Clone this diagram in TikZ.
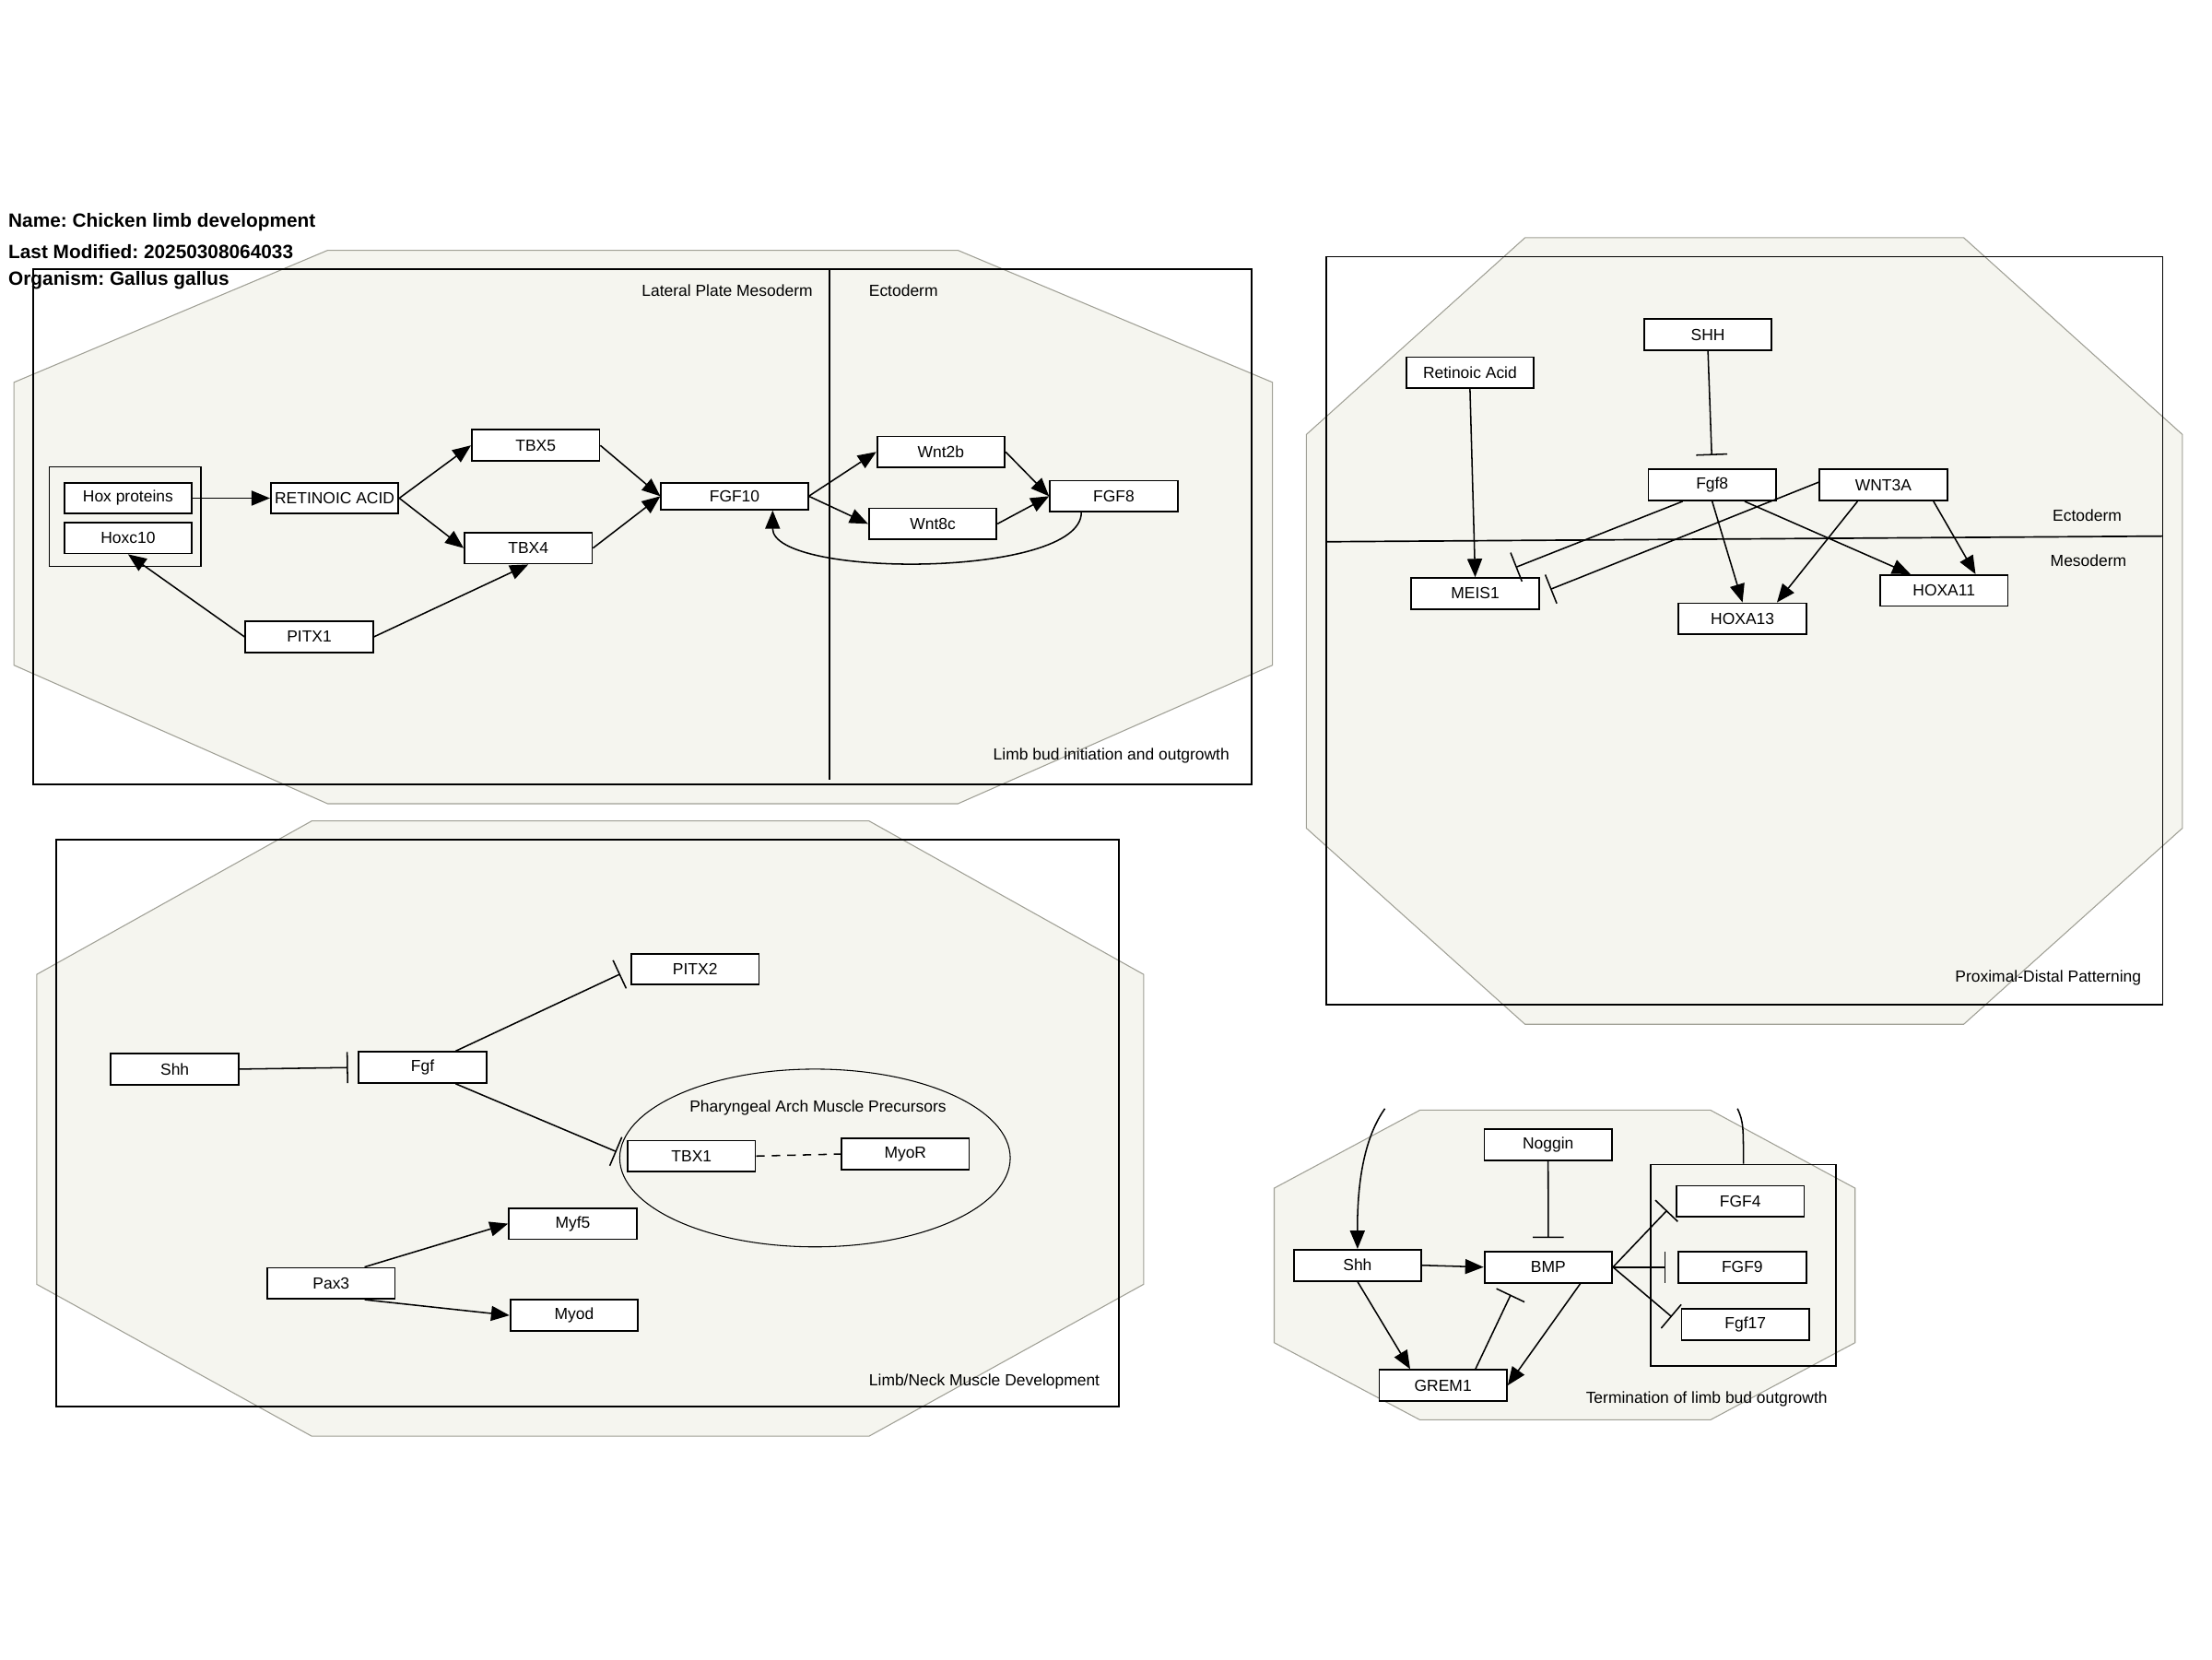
\documentclass[tikz,border=0pt]{standalone}
\usepackage{fontspec}
\setmainfont{Liberation Sans}
\usetikzlibrary{arrows.meta,shapes.geometric}
\definecolor{octfill}{RGB}{245,245,239}
\definecolor{octline}{RGB}{160,160,150}
\newcommand{\nodefont}{\fontsize{11.4pt}{13pt}\selectfont}
\newcommand{\titlefont}{\fontsize{13.6pt}{16pt}\selectfont\bfseries}
\frenchspacing
\tikzset{
  gene/.style={draw=black, fill=white, line width=1.2pt, minimum width=90.5pt, minimum height=22pt, inner sep=0pt, font=\nodefont},
  oct/.style={fill=octfill, draw=octline, line width=0.7pt},
  frame/.style={draw=black, line width=1.2pt},
  act/.style={line width=1.0pt, -{Triangle[length=13pt,width=10.5pt]}},
  inh/.style={line width=1.0pt, -{Bar[width=22pt]}},
  lbl/.style={font=\nodefont, inner sep=0pt},
}
\begin{document}
\begin{tikzpicture}[x=1pt,y=-1pt]
\useasboundingbox (0,0) rectangle (1568,1176);
\fill[white] (0,0) rectangle (1568,1176);

% ---------- background cells ----------
\draw[oct] (232.3,177.4) -- (679,177.4) -- (902,271) -- (902,471.5) -- (679,569.7) -- (232.3,569.7) -- (9.9,471.5) -- (9.9,271) -- cycle;
\draw[oct] (1081,168.5) -- (1392,168.5) -- (1547,308) -- (1547,587) -- (1392,726) -- (1081,726) -- (926,587) -- (926,308) -- cycle;
\draw[oct] (221,581.9) -- (616,581.9) -- (810.7,690.7) -- (810.7,910.3) -- (616,1018) -- (221,1018) -- (26,910.3) -- (26,690.7) -- cycle;
\draw[oct] (1006.5,786.9) -- (1212.5,786.9) -- (1315,842.2) -- (1315,951.7) -- (1212.5,1006.4) -- (1006.5,1006.4) -- (903.2,951.7) -- (903.2,842.2) -- cycle;

% ---------- frames ----------
\draw[frame] (23.4,191) rectangle (887.3,556);
\draw[line width=1.1pt] (587.9,191) -- (587.9,553);
\draw[frame] (940,182) rectangle (1533,712);
\draw[line width=1.1pt] (940,384) -- (1533,380);
\draw[frame] (40,595) rectangle (793,997);
\draw[line width=0.7pt] (577.7,820.8) ellipse [x radius=138.4, y radius=63];

% ---------- titles ----------
\node[anchor=west, font=\titlefont, inner sep=0pt] (tname) at (5.8,157.6) {Name: Chicken limb development};
\node[anchor=west, font=\titlefont, inner sep=0pt] (tmod) at (5.8,178.2) {Last Modified: 20250308064033};
\node[anchor=west, font=\titlefont, inner sep=0pt] (torg) at (5.8,198.7) {Organism: Gallus gallus};

% ---------- panel 1 ----------
\node[lbl] (lpm) at (515.5,205.8) {Lateral Plate Mesoderm};
\node[lbl] (ecto1) at (640.4,205.8) {Ectoderm};
\node[lbl, anchor=east] (p1title) at (871.6,535.6) {Limb bud initiation and outgrowth};

\node[draw=black, line width=0.9pt, minimum width=107.4pt, minimum height=70.6pt, inner sep=0pt] (hoxgrp) at (88.7,366.2) {};
\node[gene] (hox) at (90.75,353.1) {Hox proteins};
\node[gene] (hoxc10) at (90.75,381.3) {Hoxc10};
\node[gene] (ra) at (237.2,353.1) {RETINOIC ACID};
\node[gene] (tbx5) at (379.7,315.7) {TBX5};
\node[gene] (tbx4) at (374.5,388.5) {TBX4};
\node[gene, minimum width=104pt, minimum height=19pt] (fgf10) at (520.7,351.7) {FGF10};
\node[gene] (wnt2b) at (667,320.3) {Wnt2b};
\node[gene] (wnt8c) at (661.2,371.3) {Wnt8c};
\node[gene] (fgf8a) at (789.5,351.7) {FGF8};
\node[gene] (pitx1) at (219.2,451.4) {PITX1};

\draw[act] (hox.east) -- (ra.west);
\draw[act] (ra.east) -- (tbx5.west);
\draw[act] (ra.east) -- (tbx4.west);
\draw[act] (tbx5.east) -- (fgf10.west);
\draw[act] (tbx4.east) -- (fgf10.west);
\draw[act] (fgf10.east) -- (wnt2b.west);
\draw[act] (fgf10.east) -- (wnt8c.west);
\draw[act] (wnt2b.east) -- (fgf8a.west);
\draw[act] (wnt8c.east) -- (fgf8a.west);
\draw[act] (pitx1.west) -- (hoxc10.south);
\draw[act] (pitx1.east) -- (tbx4.south);
\draw[act] ([xshift=-23pt]fgf8a.south) .. controls (766.5,410) and (547.6,410) .. ([xshift=27pt]fgf10.south);

% ---------- panel 2 ----------
\node[lbl] (ecto2) at (1479.5,365.2) {Ectoderm};
\node[lbl] (meso2) at (1480.4,397.4) {Mesoderm};
\node[lbl, anchor=east] (p2title) at (1518,693) {Proximal-Distal Patterning};

\node[gene] (shh2) at (1210.7,237.3) {SHH};
\node[gene] (ra2) at (1042,264.2) {Retinoic Acid};
\node[gene] (fgf8b) at (1213.7,343.8) {Fgf8};
\node[gene] (wnt3a) at (1335,343.8) {WNT3A};
\node[gene] (meis1) at (1045.7,420.7) {MEIS1};
\node[gene] (hoxa13) at (1235.2,438.6) {HOXA13};
\node[gene] (hoxa11) at (1378,418.6) {HOXA11};

\draw[act] (ra2.south) -- (meis1.north);
\draw[inh, shorten >=9.5pt] (shh2.south) -- (fgf8b.north);
\draw[inh, shorten >=19pt] ([xshift=-21pt]fgf8b.south) -- ([xshift=11pt]meis1.north);
\draw[inh, shorten >=8pt] ([yshift=2pt]wnt3a.west) -- (meis1.east);
\draw[act] (fgf8b.south) -- (hoxa13.north);
\draw[act] ([xshift=23pt]fgf8b.south) -- ([xshift=-23.7pt]hoxa11.north);
\draw[act] ([xshift=-18.3pt]wnt3a.south) -- ([xshift=24.4pt]hoxa13.north);
\draw[act] ([xshift=35.6pt]wnt3a.south) -- ([xshift=22.4pt]hoxa11.north);

% ---------- panel 3 ----------
\node[lbl] (pamp) at (579.8,785) {Pharyngeal Arch Muscle Precursors};
\node[lbl, anchor=east] (p3title) at (779.7,979.5) {Limb/Neck Muscle Development};

\node[gene] (pitx2) at (492.75,687) {PITX2};
\node[gene] (shh3) at (123.9,757.8) {Shh};
\node[gene] (fgf3) at (299.6,756.6) {Fgf};
\node[gene] (tbx1) at (490.2,819.45) {TBX1};
\node[gene] (myor) at (641.75,818) {MyoR};
\node[gene] (myf5) at (406,867.35) {Myf5};
\node[gene] (pax3) at (234.75,909.65) {Pax3};
\node[gene] (myod) at (407,932.35) {Myod};

\draw[inh, shorten >=7pt] (shh3.east) -- (fgf3.west);
\draw[inh, shorten >=8pt] ([xshift=23.4pt]fgf3.north) -- (pitx2.west);
\draw[inh, shorten >=8pt] ([xshift=23.4pt]fgf3.south) -- (tbx1.west);
\draw[line width=1.0pt, dash pattern=on 6pt off 5pt] (tbx1.east) -- (myor.west);
\draw[act] ([xshift=23.7pt]pax3.north) -- (myf5.west);
\draw[act] ([xshift=23.7pt]pax3.south) -- (myod.west);

% ---------- panel 4 ----------
\node[lbl, anchor=east] (p4title) at (1295.5,992) {Termination of limb bud outgrowth};

\node[draw=black, line width=1.2pt, minimum width=131.4pt, minimum height=142.7pt, inner sep=0pt] (fgfgrp) at (1235.8,896.85) {};
\node[gene] (noggin) at (1097.4,811.5) {Noggin};
\node[gene] (shh4) at (962.3,896.85) {Shh};
\node[gene] (bmp) at (1097.5,898.15) {BMP};
\node[gene] (grem1) at (1022.9,982) {GREM1};
\node[gene] (fgf4) at (1233.6,851.55) {FGF4};
\node[gene] (fgf9) at (1235,898.15) {FGF9};
\node[gene] (fgf17) at (1237.2,938.75) {Fgf17};

\coordinate (cl) at (981.7,785.8);
\coordinate (cr) at (1231.6,785.8);

\draw[inh, shorten >=9pt] (noggin.south) -- (bmp.north);
\draw[act] (shh4.east) -- (bmp.west);
\draw[act] (shh4.south) -- ([xshift=-23.3pt]grem1.north);
\draw[act] ([xshift=22.8pt]bmp.south) -- (grem1.east);
\draw[inh, shorten >=8.8pt] ([xshift=23pt]grem1.north) -- ([xshift=-22.8pt]bmp.south);
\draw[inh, shorten >=8.8pt] (bmp.east) -- (fgf4.west);
\draw[inh, shorten >=8.3pt] (bmp.east) -- (fgf9.west);
\draw[inh, shorten >=8.3pt] (bmp.east) -- (fgf17.west);
\draw[act] (cl) .. controls (968,805) and (962,835) .. (shh4.north);
\draw[line width=1.0pt] (cr) .. controls (1236,795) and (1235.8,800) .. (fgfgrp.north);
\end{tikzpicture}
\end{document}
